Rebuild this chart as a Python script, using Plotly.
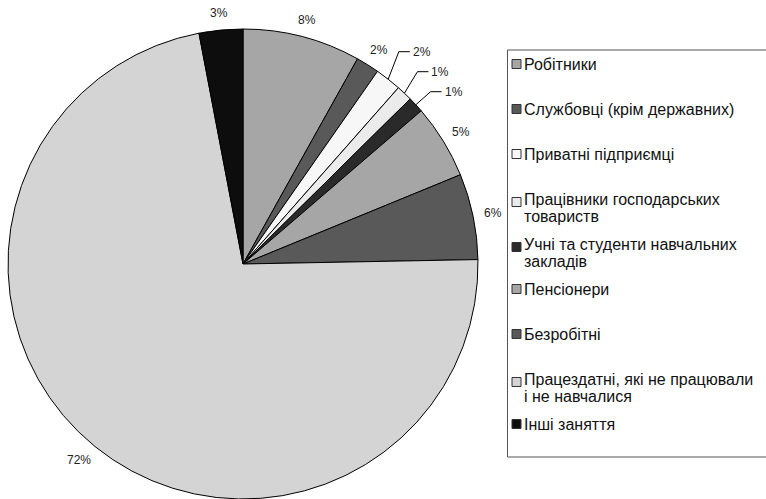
import math
import plotly.graph_objects as go

# ---- data ----
categories = [
    "Робітники",
    "Службовці (крім державних)",
    "Приватні підприємці",
    "Працівники господарських<br>товариств",
    "Учні та студенти навчальних<br>закладів",
    "Пенсіонери",
    "Безробітні",
    "Працездатні, які не працювали<br>і не навчалися",
    "Інші заняття",
]
values = [8.1, 1.6, 1.8, 1.1, 1.1, 5.1, 5.9, 72.3, 3.0]
colors = ["#a6a6a6", "#595959", "#f7f7f7", "#ebebeb", "#2a2a2a",
          "#a6a6a6", "#595959", "#d4d4d4", "#0d0d0d"]
leader_labels = {categories[2], categories[3], categories[4]}

W, H = 766, 499
FONT = "Liberation Sans, Arial, sans-serif"
LABEL_SIZE = 12


def px(x):  # pixel x -> paper
    return x / W


def py(y):  # pixel y (from top) -> paper
    return 1 - y / H


# pie geometry (pixels)
CX, R, TOP = 243, 235, 29
CY = TOP + R

fig = go.Figure()
fig.add_trace(go.Pie(
    labels=categories,
    values=values,
    sort=False,
    direction="clockwise",
    rotation=0,
    marker=dict(colors=colors, line=dict(color="#000000", width=1)),
    textinfo="none",
    showlegend=False,
    hoverinfo="label+percent",
    domain=dict(x=[px(CX - R), px(CX + R)], y=[0, py(TOP)]),
))

shapes = []
annotations = []

# ---- percentage labels placed at slice mid-angles ----
total = sum(values)
cum = 0.0
prev_leader_y = None
for lab, v in zip(categories, values):
    mid = (cum + v / 2) / total * 2 * math.pi
    cum += v
    pct = f"{round(v / total * 100):d}%"
    s, c = math.sin(mid), math.cos(mid)
    sx, sy = CX + R * s, CY - R * c
    if lab in leader_labels:
        ex, ey = CX + (R + 35) * s, CY - (R + 35) * c
        if prev_leader_y is not None:
            ey = max(ey, prev_leader_y + 20)
        prev_leader_y = ey
        path = f"M {px(sx)},{py(sy)} L {px(ex - 11)},{py(ey)} L {px(ex)},{py(ey)}"
        shapes.append(dict(type="path", xref="paper", yref="paper", path=path,
                           line=dict(color="#000000", width=1)))
        annotations.append(dict(xref="paper", yref="paper", x=px(ex + 1), y=py(ey),
                                xanchor="left", yanchor="middle", text=pct,
                                showarrow=False,
                                font=dict(family=FONT, size=LABEL_SIZE, color="#222222")))
    else:
        half_w = 0.36 * LABEL_SIZE * len(pct)
        half_h = 0.42 * LABEL_SIZE
        lx = CX + (R + 12) * s + half_w * s
        ly = CY - (R + 12) * c - half_h * c
        annotations.append(dict(xref="paper", yref="paper", x=px(lx), y=py(ly),
                                xanchor="center", yanchor="middle", text=pct,
                                showarrow=False,
                                font=dict(family=FONT, size=LABEL_SIZE, color="#222222")))

# ---- legend frame (open on the right, it runs past the page edge) ----
frame = dict(color="#555555", width=1)
LX0, LY0, LY1 = 507.5, 50, 457
shapes.append(dict(type="line", xref="paper", yref="paper",
                   x0=px(LX0), x1=1.05, y0=py(LY0), y1=py(LY0), line=frame))
shapes.append(dict(type="line", xref="paper", yref="paper",
                   x0=px(LX0), x1=1.05, y0=py(LY1), y1=py(LY1), line=frame))
shapes.append(dict(type="line", xref="paper", yref="paper",
                   x0=px(LX0), x1=px(LX0), y0=py(LY0), y1=py(LY1), line=frame))

y_first = 64
step = 45
line_gap = 17
for i, (lab, col) in enumerate(zip(categories, colors)):
    lines = lab.split("<br>")
    yc = y_first + step * i
    my = yc + (3 if len(lines) > 1 else 0)
    shapes.append(dict(type="rect", xref="paper", yref="paper",
                       x0=px(512), x1=px(521), y0=py(my + 4.5), y1=py(my - 4.5),
                       line=dict(color="#333333", width=1), fillcolor=col))
    for k, ln in enumerate(lines):
        annotations.append(dict(xref="paper", yref="paper",
                                x=px(522), y=py(yc + k * line_gap),
                                xanchor="left", yanchor="middle",
                                text=ln, showarrow=False,
                                font=dict(family=FONT, size=16, color="#111111")))

fig.update_layout(
    width=W, height=H,
    margin=dict(l=0, r=0, t=0, b=0),
    paper_bgcolor="white",
    plot_bgcolor="white",
    shapes=shapes,
    annotations=annotations,
)

fig.write_html(
    "out.html",
    config={"displayModeBar": False},
    post_script="document.body.style.margin='0px';document.body.style.overflow='hidden';",
)
